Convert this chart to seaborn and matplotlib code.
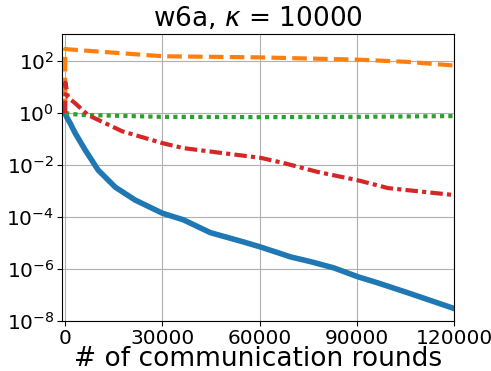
import numpy as np
import pandas as pd
import matplotlib
matplotlib.use("Agg")
import matplotlib.pyplot as plt
import seaborn as sns

# values (log scale)
blue_x = [0, 500, 1550, 3100, 6200, 10200, 15500, 21600, 30000, 36500, 44800, 55000, 60300,
          69600, 75800, 82900, 90300, 96500, 105800, 120000]
blue_y = [1.0, 0.7, 0.41, 0.17, 0.038, 6.4e-3, 1.4e-3, 4.5e-4, 1.4e-4, 7.8e-5, 2.5e-5, 1.1e-5, 7e-6,
          2.9e-6, 1.9e-6, 1.1e-6, 5e-7, 2.9e-7, 1.2e-7, 3e-8]

orange_x = [0, 50, 300, 30000, 60000, 90000, 105000, 120000]
orange_y = [1.0, 300, 290, 155, 140, 115, 95, 68]

green_x = [0, 5000, 30000, 60000, 90000, 120000]
green_y = [1.0, 0.85, 0.72, 0.7, 0.72, 0.77]

red_x = [0, 100, 900, 3100, 7100, 17600, 30000, 36500, 45800, 60300, 67400, 78000, 90300, 99600, 120000]
red_y = [1.0, 15, 4, 2.4, 0.84, 0.2, 0.07, 0.045, 0.032, 0.019, 0.012, 0.0054, 0.0026, 0.0013, 7e-4]

series = [
    (blue_x, blue_y, "tab:blue", "-", 4),
    (orange_x, orange_y, "tab:orange", (0, (3.5, 1.5)), 3),
    (green_x, green_y, "tab:green", (0, (1, 1)), 3),
    (red_x, red_y, "tab:red", (0, (3, 1, 1, 1)), 3),
]

fig = plt.figure(figsize=(4.91, 3.71), dpi=100)
ax = fig.add_axes([0.126, 0.135, 0.799, 0.773])

for xs, ys, c, ls, lw in series:
    df = pd.DataFrame({"x": xs, "y": ys})
    sns.lineplot(data=df, x="x", y="y", ax=ax, color=c, linestyle=ls, linewidth=lw)

ax.set_yscale("log")
ax.set_ylim(1e-8, 1.1e3)
ax.set_xlim(-1000, 120000)
ax.set_xticks([0, 30000, 60000, 90000, 120000])
ax.set_yticks([1e2, 1e0, 1e-2, 1e-4, 1e-6, 1e-8])
ax.minorticks_off()
ax.tick_params(labelsize=14.5, pad=2)
ax.grid(True, color="#b0b0b0", linewidth=0.8)
ax.set_xlabel("# of communication rounds", fontsize=19, labelpad=-1)
ax.set_ylabel("")
ax.set_title(r"w6a, $\kappa$ = 10000", fontsize=19)

fig.savefig("out.png", dpi=100)
